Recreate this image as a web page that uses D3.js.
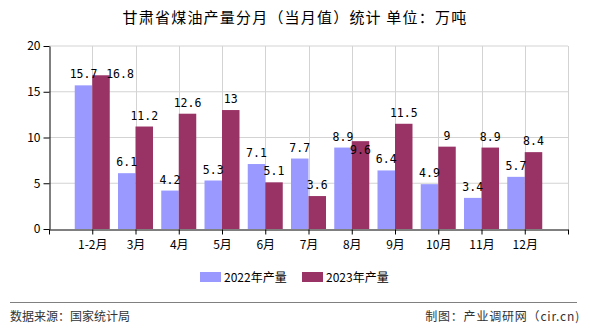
<!DOCTYPE html>
<html><head><meta charset="utf-8">
<script src="https://cdn.jsdelivr.net/npm/d3@7"></script>
<style>body{margin:0;background:#fff;}svg{display:block;}</style>
</head><body>
<script>
const categories = ["1-2月","3月","4月","5月","6月","7月","8月","9月","10月","11月","12月"];
const series2022 = [15.7,6.1,4.2,5.3,7.1,7.7,8.9,6.4,4.9,3.4,5.7];
const series2023 = [16.8,11.2,12.6,13,5.1,3.6,9.6,11.5,9,8.9,8.4];
const seriesNames = ["2022年产量","2023年产量"];
const yTicks = [0,5,10,15,20];
const title = "甘肃省煤油产量分月（当月值）统计 单位：万吨";

const W=590,H=330;
const L=49,R=568,T=46,B=229;
const colors=["#9999ff","#993366"];
const font='"Noto Sans CJK SC", sans-serif';
const svg=d3.select("body").append("svg").attr("width",W).attr("height",H);

const x=d3.scaleLinear().domain([0,categories.length+1]).range([L,R]);
const y=d3.scaleLinear().domain([0,20]).range([B,T]);
const bw=17.5;

svg.append("text").attr("x",295).attr("y",23).attr("text-anchor","middle")
  .attr("font-family",font).attr("font-size",15).attr("letter-spacing",1.2).attr("fill","#000").text(title);

// grid
const g=svg.append("g");
g.selectAll("line.h").data(yTicks.filter(d=>d>0)).join("line")
  .attr("x1",L).attr("x2",R).attr("y1",d=>y(d)).attr("y2",d=>y(d))
  .attr("stroke","#d3d3d3").attr("stroke-width",1);
g.selectAll("line.v").data(d3.range(1,categories.length+2)).join("line")
  .attr("x1",d=>Math.round(x(d))+0.5).attr("x2",d=>Math.round(x(d))+0.5).attr("y1",T).attr("y2",B)
  .attr("stroke","#d3d3d3").attr("stroke-width",1);

// bars
const series=[series2022,series2023];
series.forEach((vals,si)=>{
  svg.append("g").selectAll("rect").data(vals).join("rect")
    .attr("x",(d,i)=>x(i+1)+(si===0?-bw:0))
    .attr("y",d=>y(d)).attr("width",bw).attr("height",d=>B-y(d))
    .attr("fill",colors[si]);
});

// labels
const nudge={ "1-0":[19,10], "1-6":[0,20] };
series.forEach((vals,si)=>{
  svg.append("g").selectAll("text").data(vals).join("text")
    .attr("x",(d,i)=>x(i+1)+(si===0?-bw/2:bw/2)+((nudge[si+"-"+i]||[0,0])[0]))
    .attr("y",(d,i)=>y(d)-7+((nudge[si+"-"+i]||[0,0])[1]))
    .attr("text-anchor","middle").attr("font-family",'"DejaVu Sans Mono", monospace')
    .attr("font-size",11.5).attr("fill","#000").text(d=>d);
});

// y axis
const ya=svg.append("g").attr("transform",`translate(${L+0.5},0)`)
  .call(d3.axisLeft(y).tickValues(yTicks).tickSize(6).tickPadding(3).tickSizeOuter(0));
ya.select(".domain").attr("stroke","#000");
ya.selectAll("text").attr("font-family",font).attr("font-size",12).attr("fill","#000");

// x axis
const xa=svg.append("g").attr("transform",`translate(0,${B+0.5})`)
  .call(d3.axisBottom(x).tickValues(d3.range(0,categories.length+2)).tickSize(5).tickSizeOuter(0)
    .tickFormat(d=>(d>=1&&d<=categories.length)?categories[d-1]:""));
xa.select(".domain").attr("stroke","#000");
xa.selectAll("line").attr("stroke","#000");
xa.selectAll("text").attr("font-family",font).attr("font-size",12).attr("fill","#000").attr("dy","0.95em");

// legend
const lg=svg.append("g");
const lx=[200,302];
seriesNames.forEach((n,i)=>{
  lg.append("rect").attr("x",lx[i]).attr("y",272).attr("width",21).attr("height",10).attr("fill",colors[i]);
  lg.append("text").attr("x",lx[i]+24).attr("y",281.5).attr("font-family",font).attr("font-size",12).attr("fill","#000").text(n);
});

// footer
svg.append("line").attr("x1",10).attr("x2",577).attr("y1",302.5).attr("y2",302.5).attr("stroke","#808080").attr("stroke-width",1);
svg.append("text").attr("x",10).attr("y",321).attr("font-family",font).attr("font-size",12).attr("fill","#333").text("数据来源：国家统计局");
svg.append("text").attr("x",580).attr("y",321).attr("text-anchor","end").attr("font-family",font).attr("font-size",12).attr("fill","#333").attr("letter-spacing",0.8).text("制图：产业调研网（cir.cn)");
</script>
</body></html>
